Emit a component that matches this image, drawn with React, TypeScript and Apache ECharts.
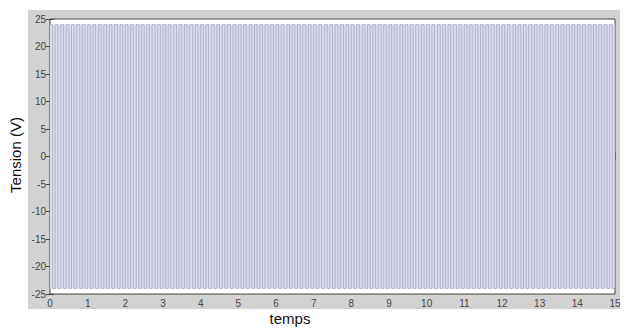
import React, { useEffect, useRef } from "react";
import * as echarts from "echarts";

const xTicks = [0, 15, 1];
const yTicks = [-25, 25, 5];
const levels = [24, -24];
const switchTimes = [
  0.07, 0.14, 0.21, 0.29, 0.36, 0.43, 0.5, 0.57, 0.64, 0.71, 0.79, 0.86, 0.93, 1.0,
  1.07, 1.14, 1.21, 1.29, 1.36, 1.43, 1.5, 1.57, 1.64, 1.71, 1.79, 1.86, 1.93, 2.0,
  2.07, 2.14, 2.21, 2.29, 2.36, 2.43, 2.5, 2.57, 2.64, 2.71, 2.79, 2.86, 2.93, 3.0,
  3.07, 3.14, 3.21, 3.29, 3.36, 3.43, 3.5, 3.57, 3.64, 3.71, 3.79, 3.86, 3.93, 4.0,
  4.07, 4.14, 4.21, 4.29, 4.36, 4.43, 4.5, 4.57, 4.64, 4.71, 4.79, 4.86, 4.93, 5.0,
  5.07, 5.14, 5.21, 5.29, 5.36, 5.43, 5.5, 5.57, 5.64, 5.71, 5.79, 5.86, 5.93, 6.0,
  6.07, 6.14, 6.21, 6.29, 6.36, 6.43, 6.5, 6.57, 6.64, 6.71, 6.79, 6.86, 6.93, 7.0,
  7.07, 7.14, 7.21, 7.29, 7.36, 7.43, 7.5, 7.57, 7.64, 7.71, 7.79, 7.86, 7.93, 8.0,
  8.07, 8.14, 8.21, 8.29, 8.36, 8.43, 8.5, 8.57, 8.64, 8.71, 8.79, 8.86, 8.93, 9.0,
  9.07, 9.14, 9.21, 9.29, 9.36, 9.43, 9.5, 9.57, 9.64, 9.71, 9.79, 9.86, 9.93, 10.0,
  10.07, 10.14, 10.21, 10.29, 10.36, 10.43, 10.5, 10.57, 10.64, 10.71, 10.79, 10.86, 10.93, 11.0,
  11.07, 11.14, 11.21, 11.29, 11.36, 11.43, 11.5, 11.57, 11.64, 11.71, 11.79, 11.86, 11.93, 12.0,
  12.07, 12.14, 12.21, 12.29, 12.36, 12.43, 12.5, 12.57, 12.64, 12.71, 12.79, 12.86, 12.93, 13.0,
  13.07, 13.14, 13.21, 13.29, 13.36, 13.43, 13.5, 13.57, 13.64, 13.71, 13.79, 13.86, 13.93, 14.0,
  14.07, 14.14, 14.21, 14.29, 14.36, 14.43, 14.5, 14.57, 14.64, 14.71, 14.79, 14.86, 14.93, 15.0,
];

function buildWave() {
  const pts: number[][] = [];
  let idx = 0;
  pts.push([0, levels[idx]]);
  for (const t of switchTimes) {
    pts.push([t, levels[idx]]);
    idx = 1 - idx;
    pts.push([t, levels[idx]]);
  }
  return pts;
}

export default function App() {
  const ref = useRef<HTMLDivElement>(null);
  useEffect(() => {
    if (!ref.current) return;
    const chart = echarts.init(ref.current, undefined, { renderer: "svg" });
    const font = "Liberation Sans";
    const tickLbl = { color: "#444", fontSize: 10, fontFamily: font };
    chart.setOption({
      animation: false,
      graphic: [
        {
          type: "rect",
          shape: { x: 28, y: 10, width: 592, height: 299 },
          style: { fill: "#d2d2d2" },
          z: -10,
        },
        {
          type: "text",
          x: 15,
          y: 155,
          rotation: Math.PI / 2,
          style: {
            text: "Tension (V)",
            fontSize: 15,
            fontFamily: font,
            fill: "#111",
            align: "center",
            verticalAlign: "middle",
          },
        },
        {
          type: "text",
          x: 290,
          y: 318,
          style: {
            text: "temps",
            fontSize: 15,
            fontFamily: font,
            fill: "#111",
            align: "center",
            verticalAlign: "middle",
          },
        },
      ],
      grid: {
        left: 50,
        top: 19,
        right: 11,
        bottom: 35,
        show: true,
        backgroundColor: "#ffffff",
        borderColor: "#444",
        borderWidth: 1,
      },
      xAxis: [
        {
          type: "value",
          min: xTicks[0],
          max: xTicks[1],
          interval: xTicks[2],
          axisLine: { show: false },
          axisTick: { show: true, inside: true, length: 4, lineStyle: { color: "#444" } },
          axisLabel: { ...tickLbl, margin: 4 },
          splitLine: { show: false },
        },
        {
          type: "value",
          position: "top",
          min: xTicks[0],
          max: xTicks[1],
          interval: xTicks[2],
          axisLine: { show: false },
          axisTick: { show: true, inside: true, length: 4, lineStyle: { color: "#444" } },
          axisLabel: { show: false },
          splitLine: { show: false },
        },
      ],
      yAxis: [
        {
          type: "value",
          min: yTicks[0],
          max: yTicks[1],
          interval: yTicks[2],
          axisLine: { show: false },
          axisTick: { show: true, inside: true, length: 4, lineStyle: { color: "#444" } },
          axisLabel: { ...tickLbl, margin: 4 },
          splitLine: { show: false },
        },
        {
          type: "value",
          position: "right",
          min: yTicks[0],
          max: yTicks[1],
          interval: yTicks[2],
          axisLine: { show: false },
          axisTick: { show: true, inside: true, length: 4, lineStyle: { color: "#444" } },
          axisLabel: { show: false },
          splitLine: { show: false },
        },
      ],
      series: [
        {
          type: "line",
          data: buildWave(),
          showSymbol: false,
          symbol: "none",
          lineStyle: { color: "#a4a4c0", width: 1, opacity: 0.7 },
          markArea: {
            silent: true,
            itemStyle: { color: "#dcdcec" },
            data: [[{ yAxis: levels[1], xAxis: xTicks[0] }, { yAxis: levels[0], xAxis: xTicks[1] }]],
          },
        },
      ],
    });
    return () => chart.dispose();
  }, []);
  return <div ref={ref} style={{ width: 626, height: 329, position: "absolute", left: 0, top: 0 }} />;
}
